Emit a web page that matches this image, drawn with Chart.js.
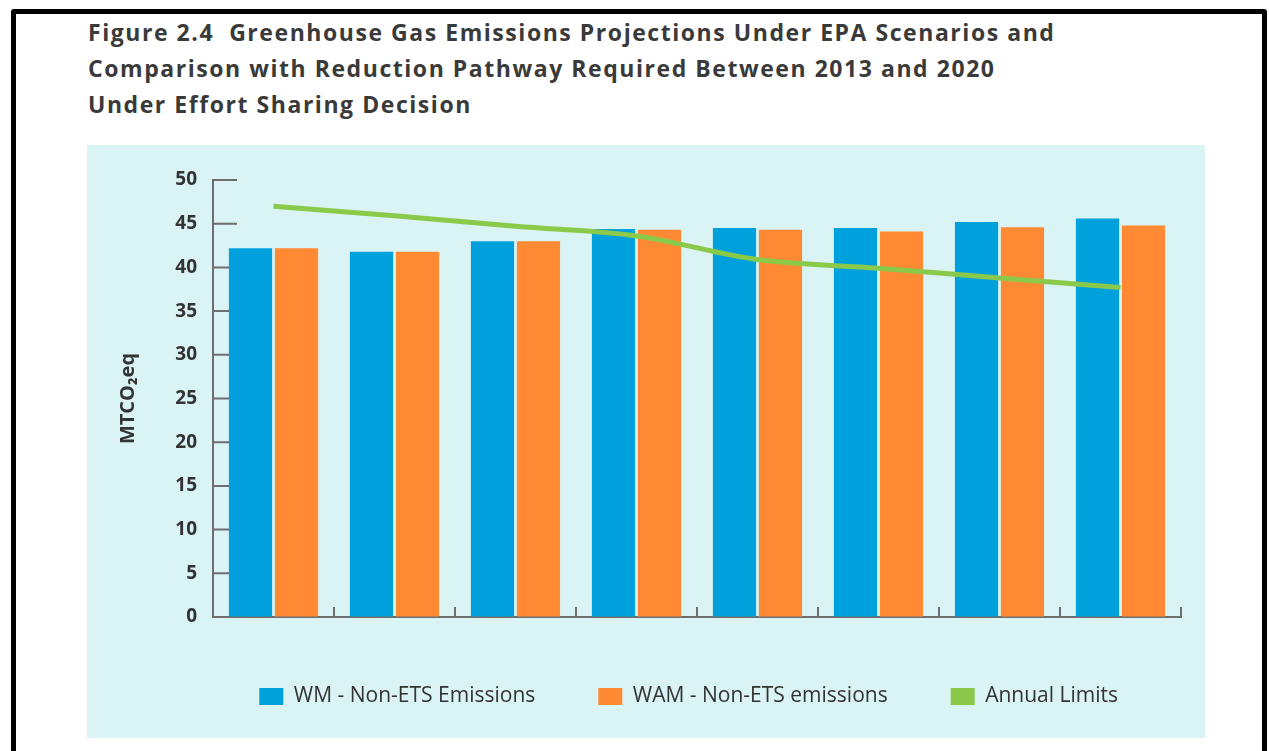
<!DOCTYPE html>
<html>
<head>
<meta charset="utf-8">
<script src="https://cdn.jsdelivr.net/npm/chart.js@4/dist/chart.umd.min.js"></script>
<style>
  body { margin: 0; background: #fff; width: 1269px; height: 751px; overflow: hidden; position: relative; font-family: "Open Sans", sans-serif; }
  .frame { position: absolute; left: 11px; top: 9px; width: 1246px; height: 780px; border: 5px solid #000; border-radius: 3px; }
  .title { position: absolute; left: 88px; top: 14px; color: #3a3a3a; font-weight: bold; font-size: 23px; letter-spacing: 1.55px; line-height: 36px; white-space: nowrap; }
  .panel { position: absolute; left: 87px; top: 145px; width: 1118px; height: 593px; background: #daf3f4; }
</style>
</head>
<body>
<div class="frame"></div>
<div class="title">Figure 2.4&nbsp; Greenhouse Gas Emissions Projections Under EPA Scenarios and<br>Comparison with Reduction Pathway Required Between 2013 and 2020<br>Under Effort Sharing Decision</div>
<div class="panel"><canvas id="ghgChart" width="1118" height="593"></canvas></div>
<script>
const years = ['2013', '2014', '2015', '2016', '2017', '2018', '2019', '2020'];
const wmEmissions = [42.2, 41.8, 43.0, 44.4, 44.5, 44.5, 45.2, 45.6];
const wamEmissions = [42.2, 41.8, 43.0, 44.3, 44.3, 44.1, 44.6, 44.8];
const annualLimits = [47.0, 45.9, 44.7, 43.6, 40.9, 39.9, 38.8, 37.7];

const textColor = '#333333';
const axisColor = '#6e6e6e';

// small inward tick marks like the original figure
const innerTicks = {
    id: 'innerTicks',
    beforeDatasetsDraw(chart) {
        const ctx = chart.ctx;
        const area = chart.chartArea;
        const x = chart.scales.x;
        const y = chart.scales.y;
        ctx.save();
        ctx.strokeStyle = axisColor;
        ctx.lineWidth = 2;
        ctx.beginPath();
        y.ticks.forEach((t, i) => {
            const py = y.getPixelForTick(i);
            ctx.moveTo(area.left, py);
            ctx.lineTo(area.left + 24, py);
        });
        const step = x.getPixelForValue(1) - x.getPixelForValue(0);
        for (let i = 0; i < years.length; i++) {
            const px = x.getPixelForValue(i) + step / 2;
            ctx.moveTo(px, area.bottom);
            ctx.lineTo(px, area.bottom - 10);
        }
        ctx.stroke();
        ctx.restore();
    }
};

new Chart(document.getElementById('ghgChart'), {
    type: 'bar',
    data: {
        labels: years,
        datasets: [{
            label: 'WM - Non-ETS Emissions',
            data: wmEmissions,
            backgroundColor: '#00a0dc',
            categoryPercentage: 0.76,
            barPercentage: 0.94,
            order: 1
        }, {
            label: 'WAM - Non-ETS emissions',
            data: wamEmissions,
            backgroundColor: '#ff8a33',
            categoryPercentage: 0.76,
            barPercentage: 0.94,
            order: 1
        }, {
            type: 'line',
            label: 'Annual Limits',
            data: annualLimits,
            borderColor: '#8bc94a',
            backgroundColor: '#8bc94a',
            borderWidth: 5,
            pointRadius: 0,
            tension: 0.35,
            order: 0
        }]
    },
    options: {
        responsive: false,
        animation: false,
        layout: {
            padding: { left: 25, top: 35, right: 24, bottom: 21 }
        },
        plugins: {
            tooltip: { enabled: false },
            legend: {
                position: 'bottom',
                align: 'end',
                labels: {
                    boxWidth: 24,
                    boxHeight: 17,
                    padding: 63,
                    color: textColor,
                    font: { family: 'Open Sans', size: 21 },
                    sort: (a, b) => a.datasetIndex - b.datasetIndex,
                    generateLabels(chart) {
                        const items = Chart.defaults.plugins.legend.labels.generateLabels(chart);
                        items.forEach(it => { it.lineWidth = 0; it.strokeStyle = it.fillStyle; });
                        return items;
                    }
                }
            }
        },
        scales: {
            x: {
                offset: true,
                grid: { drawOnChartArea: false, drawTicks: false },
                border: { color: axisColor, width: 2 },
                ticks: {
                    padding: 20,
                    color: textColor,
                    font: { family: 'Open Sans', size: 20, weight: 'bold' }
                },
                afterFit(scale) { scale.height = 6; }
            },
            y: {
                min: 0,
                max: 50,
                ticks: {
                    stepSize: 5,
                    padding: 16,
                    color: textColor,
                    font: { family: 'Open Sans', size: 19, weight: 'bold' }
                },
                grid: { drawOnChartArea: false, drawTicks: false },
                border: { color: axisColor, width: 2 },
                title: {
                    display: true,
                    text: 'MTCO\u2082eq',
                    color: textColor,
                    font: { family: 'Open Sans', size: 20, weight: 'bold' }
                },
                afterFit(scale) { scale.width = 101; }
            }
        }
    },
    plugins: [innerTicks]
});
</script>
</body>
</html>
